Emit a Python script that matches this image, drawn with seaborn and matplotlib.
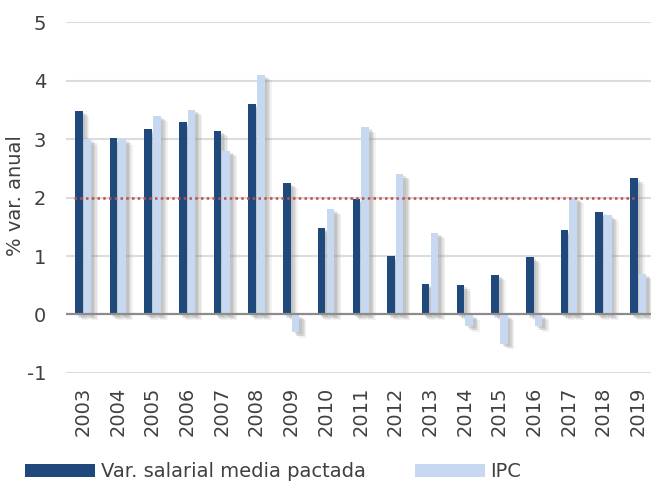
import pandas as pd
import matplotlib
matplotlib.use('Agg')
import matplotlib.pyplot as plt
import matplotlib.patheffects as pe
import seaborn as sns

# Datos
years = [str(y) for y in range(2003, 2020)]
salarial = [3.48, 3.01, 3.17, 3.29, 3.14, 3.60, 2.25, 1.48, 1.98, 1.00,
            0.53, 0.50, 0.68, 0.98, 1.44, 1.75, 2.33]
ipc = [3.0, 3.0, 3.4, 3.5, 2.8, 4.1, -0.3, 1.8, 3.2, 2.4,
       1.4, -0.2, -0.5, -0.2, 2.0, 1.7, 0.7]
series_names = ["Var. salarial media pactada", "IPC"]
target = 2.0
y_ticks = [-1, 0, 1, 2, 3, 4, 5]

df = pd.DataFrame({
    "year": years * 2,
    "value": salarial + ipc,
    "serie": [series_names[0]] * len(years) + [series_names[1]] * len(years),
})

text_color = "#404040"
sns.set_style("white")
plt.rcParams['font.family'] = ['DejaVu Sans']

fig = plt.figure(figsize=(6.51, 4.88), dpi=100)
ax = fig.add_axes([0.101, 0.2357, 0.906, 0.719])

sns.barplot(data=df, x="year", y="value", hue="serie",
            palette=["#1F497D", "#C6D9F1"], width=0.5, gap=0.13,
            saturation=1, ax=ax, zorder=3, linewidth=0)

# sombra difusa: varias capas desplazadas
shadow = [pe.SimplePatchShadow(offset=(5, -4), shadow_rgbFace="#9a9a9a", alpha=0.12),
          pe.SimplePatchShadow(offset=(4, -3), shadow_rgbFace="#9a9a9a", alpha=0.18),
          pe.SimplePatchShadow(offset=(3, -2.5), shadow_rgbFace="#9a9a9a", alpha=0.22),
          pe.SimplePatchShadow(offset=(2, -1.5), shadow_rgbFace="#9a9a9a", alpha=0.25),
          pe.Normal()]
for p in ax.patches:
    p.set_path_effects(shadow)

# Rejilla y eje cero
for t in y_ticks:
    if t == 0:
        ax.axhline(t, color="#8c8c8c", lw=1.6, zorder=4)
    else:
        ax.axhline(t, color="#dcdcdc", lw=1.5, zorder=1)

# Objetivo 2%
ax.hlines(target, -0.25, len(years) - 1.125, colors="#C0504D",
          linestyles=(0, (1, 1.3)), lw=1.8, zorder=5)

ax.set_ylim(-1, 5)
ax.set_xlim(-0.5, len(years) - 0.5)
ax.set_yticks(y_ticks)
ax.set_yticklabels([str(t) for t in y_ticks])
ax.tick_params(axis="y", length=0, pad=14, labelsize=14, labelcolor=text_color)
ax.tick_params(axis="x", length=0, pad=10, labelsize=14, labelcolor=text_color,
               labelrotation=90)
ax.set_xlabel("")
ax.set_ylabel("% var. anual", fontsize=14, color=text_color)
ax.yaxis.set_label_coords(-0.069, 0.507)
sns.despine(ax=ax, left=True, bottom=True)

handles, labels = ax.get_legend_handles_labels()
ax.legend_.remove()
leg = fig.legend(handles, labels, loc="center left", bbox_to_anchor=(0.012, 0.033),
                 ncol=2, frameon=False, fontsize=14, handlelength=3.6, handleheight=0.6,
                 handletextpad=0.3, columnspacing=2.5, labelcolor=text_color)
for h in leg.legend_handles:
    h.set_path_effects([])

plt.savefig("out.png", dpi=100)
plt.close()
